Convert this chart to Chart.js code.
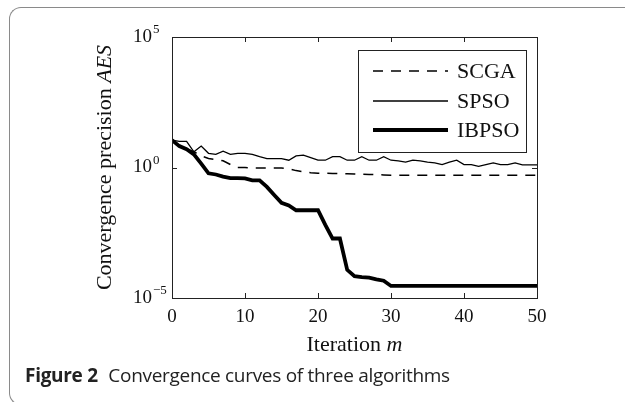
<!DOCTYPE html>
<html>
<head>
<meta charset="utf-8">
<script src="https://cdn.jsdelivr.net/npm/chart.js@4/dist/chart.umd.min.js"></script>
<style>
  html, body { margin: 0; padding: 0; background: #fff; }
  #wrap { position: relative; width: 625px; height: 402px; overflow: hidden; }
  #frame {
    position: absolute; left: 9px; top: 7px; width: 700px; height: 398px;
    border: 1.5px solid #8a8a8a; border-right: none; border-radius: 12px 0 0 12px;
    box-sizing: border-box;
  }
  #chart { position: absolute; left: 0; top: 0; }
  #caption {
    position: absolute; left: 25px; top: 362px;
    font-family: "Open Sans", sans-serif; font-size: 19px; color: #222;
    white-space: nowrap; letter-spacing: -0.3px;
  }
  #caption b { font-weight: 700; margin-right: 6px; }
</style>
</head>
<body>
<div id="wrap">
  <div id="frame"></div>
  <canvas id="chart" width="625" height="402"></canvas>
  <div id="caption"><b>Figure 2</b> Convergence curves of three algorithms</div>
</div>
<script>
// iterations 0..50
const iterations = Array.from({ length: 51 }, (_, i) => i);

const scgaValues = [
  11.2, 7.1, 5.2, 4.0, 2.8, 2.2, 2.0, 1.8, 1.3, 1.0,
  1.0, 0.95, 0.95, 0.95, 0.95, 0.95, 0.89, 0.76, 0.68, 0.63,
  0.6, 0.6, 0.59, 0.58, 0.57, 0.56, 0.55, 0.54, 0.53, 0.52,
  0.5, 0.5, 0.5, 0.5, 0.5, 0.5, 0.5, 0.5, 0.5, 0.5,
  0.5, 0.5, 0.5, 0.5, 0.5, 0.5, 0.5, 0.5, 0.5, 0.5, 0.5
];

const spsoValues = [
  11.2, 10, 10, 4.0, 6.6, 3.5, 3.2, 4.2, 3.2, 3.5,
  3.5, 3.2, 2.6, 2.2, 2.2, 2.2, 1.9, 2.8, 3.0, 2.4,
  1.9, 1.9, 2.6, 2.6, 1.9, 1.9, 2.6, 1.9, 1.9, 2.6,
  1.9, 1.8, 1.6, 1.9, 1.8, 1.6, 1.5, 1.3, 1.6, 1.9,
  1.3, 1.3, 1.1, 1.3, 1.5, 1.3, 1.3, 1.5, 1.26, 1.26, 1.26
];

const ibpsoValues = [
  11.2, 6.6, 5.0, 3.2, 1.4, 0.6, 0.54, 0.45, 0.39, 0.39,
  0.38, 0.32, 0.32, 0.18, 0.089, 0.044, 0.035, 0.023, 0.023, 0.023,
  0.023, 0.0063, 0.0019, 0.0019, 1.2e-4, 6.9e-5, 6.3e-5, 6.0e-5, 5.2e-5, 4.6e-5,
  2.9e-5, 2.9e-5, 2.9e-5, 2.9e-5, 2.9e-5, 2.9e-5, 2.9e-5, 2.9e-5, 2.9e-5, 2.9e-5,
  2.9e-5, 2.9e-5, 2.9e-5, 2.9e-5, 2.9e-5, 2.9e-5, 2.9e-5, 2.9e-5, 2.9e-5, 2.9e-5, 2.9e-5
];

const seriesNames = ['SCGA', 'SPSO', 'IBPSO'];
const xTicks = [0, 10, 20, 30, 40, 50];
const yTicks = [1e-5, 1, 1e5];
const yTickExponents = ['\u22125', '0', '5'];

const SERIF = '"Liberation Serif", "Times New Roman", serif';

const styles = [
  { borderWidth: 1.5, borderDash: [10, 8] },
  { borderWidth: 1.3, borderDash: [] },
  { borderWidth: 3.8, borderDash: [] }
];

function toPoints(values) {
  return iterations.map((it, i) => ({ x: it, y: values[i] }));
}

// draws frame, inward ticks, 10^n labels, axis titles and the boxed legend
const matlabLook = {
  id: 'matlabLook',
  afterDraw(chart) {
    const ctx = chart.ctx;
    const a = chart.chartArea;
    const xs = chart.scales.x;
    const ys = chart.scales.y;
    ctx.save();

    ctx.strokeStyle = '#222';
    ctx.lineWidth = 1;
    ctx.strokeRect(a.left + 0.5, a.top + 0.5, a.right - a.left, a.bottom - a.top);

    const tl = 5;
    ctx.beginPath();
    xTicks.forEach(v => {
      const px = Math.round(xs.getPixelForValue(v)) + 0.5;
      ctx.moveTo(px, a.bottom); ctx.lineTo(px, a.bottom - tl);
      ctx.moveTo(px, a.top); ctx.lineTo(px, a.top + tl);
    });
    yTicks.forEach(v => {
      const py = Math.round(ys.getPixelForValue(v)) + 0.5;
      ctx.moveTo(a.left, py); ctx.lineTo(a.left + tl, py);
      ctx.moveTo(a.right, py); ctx.lineTo(a.right - tl, py);
    });
    ctx.stroke();

    ctx.fillStyle = '#111';
    ctx.textBaseline = 'middle';
    ctx.textAlign = 'left';
    yTicks.forEach((v, i) => {
      const py = ys.getPixelForValue(v);
      ctx.font = '19px ' + SERIF;
      const x0 = 133;
      ctx.fillText('10', x0, py);
      const w = ctx.measureText('10').width;
      ctx.font = '13px ' + SERIF;
      ctx.fillText(yTickExponents[i], x0 + w + 1, py - 7);
    });

    // x axis title
    ctx.font = '22px ' + SERIF;
    const t1 = 'Iteration ';
    const w1 = ctx.measureText(t1).width;
    ctx.font = 'italic 22px ' + SERIF;
    const w2 = ctx.measureText('m').width;
    const cx = (a.left + a.right) / 2;
    const sx = cx - (w1 + w2) / 2;
    ctx.font = '22px ' + SERIF;
    ctx.fillText(t1, sx, 345);
    ctx.font = 'italic 22px ' + SERIF;
    ctx.fillText('m', sx + w1, 345);

    // y axis title
    ctx.save();
    ctx.translate(105, (a.top + a.bottom) / 2);
    ctx.rotate(-Math.PI / 2);
    ctx.font = '22px ' + SERIF;
    const y1 = 'Convergence precision ';
    const yw1 = ctx.measureText(y1).width;
    ctx.font = 'italic 22px ' + SERIF;
    const yw2 = ctx.measureText('AES').width;
    const sy = -(yw1 + yw2) / 2;
    ctx.font = '22px ' + SERIF;
    ctx.fillText(y1, sy, 0);
    ctx.font = 'italic 22px ' + SERIF;
    ctx.fillText('AES', sy + yw1, 0);
    ctx.restore();

    // legend
    const lx = 358, ly = 50, lw = 168, lh = 102;
    ctx.fillStyle = '#fff';
    ctx.fillRect(lx, ly, lw, lh);
    ctx.strokeStyle = '#222';
    ctx.lineWidth = 1;
    ctx.strokeRect(lx + 0.5, ly + 0.5, lw, lh);
    const rows = [71, 101, 130];
    seriesNames.forEach((name, i) => {
      ctx.beginPath();
      ctx.lineWidth = styles[i].borderWidth;
      ctx.setLineDash(styles[i].borderDash);
      ctx.strokeStyle = '#000';
      ctx.moveTo(373, rows[i]);
      ctx.lineTo(448, rows[i]);
      ctx.stroke();
      ctx.setLineDash([]);
      ctx.fillStyle = '#111';
      ctx.font = '22px ' + SERIF;
      ctx.fillText(name, 457, rows[i] + 1);
    });

    ctx.restore();
  }
};

const datasets = [scgaValues, spsoValues, ibpsoValues].map((vals, i) => ({
  label: seriesNames[i],
  data: toPoints(vals),
  borderColor: '#000',
  borderWidth: styles[i].borderWidth,
  borderDash: styles[i].borderDash,
  pointRadius: 0,
  tension: 0,
  fill: false
}));

new Chart(document.getElementById('chart'), {
  type: 'line',
  data: { datasets },
  options: {
    responsive: false,
    animation: false,
    events: [],
    layout: { padding: { top: 37, right: 88, left: 0, bottom: 0 } },
    plugins: { legend: { display: false }, tooltip: { enabled: false } },
    scales: {
      x: {
        type: 'linear',
        min: 0,
        max: 50,
        afterBuildTicks: s => { s.ticks = xTicks.map(v => ({ value: v })); },
        afterFit: s => { s.height = 104; },
        grid: { display: false, drawTicks: false },
        border: { display: false },
        ticks: {
          color: '#111',
          padding: 8,
          maxRotation: 0,
          font: { family: SERIF, size: 19 }
        }
      },
      y: {
        type: 'logarithmic',
        min: 1e-5,
        max: 1e5,
        afterBuildTicks: s => { s.ticks = yTicks.map(v => ({ value: v })); },
        afterFit: s => { s.width = 172; },
        grid: { display: false, drawTicks: false },
        border: { display: false },
        ticks: { callback: () => '' }
      }
    }
  },
  plugins: [matlabLook]
});
</script>
</body>
</html>
